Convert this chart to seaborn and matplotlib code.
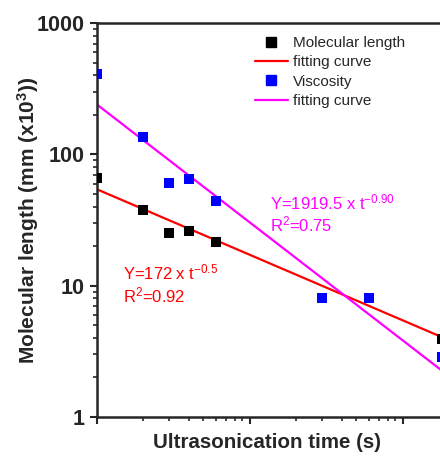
import numpy as np
import pandas as pd
import matplotlib.pyplot as plt
import seaborn as sns
from matplotlib.lines import Line2D

# -------------------------------
# data
# -------------------------------
time_mol = [10, 20, 30, 40, 60, 1800]
mol_length = [66, 37.5, 25, 26, 21.4, 3.9]

time_visc = [10, 20, 30, 40, 60, 300, 600, 1800]
viscosity = [407, 136, 60.5, 64.6, 44, 8.06, 7.98, 2.86]

# fit parameters Y = A * t^b
fit_mol = (172, -0.5)
fit_visc = (1919.5, -0.90)

# -------------------------------
# style
# -------------------------------
sns.set_style("ticks")
plt.rcParams["font.family"] = ["Liberation Sans", "DejaVu Sans"]
plt.rcParams["mathtext.default"] = "regular"

fig = plt.figure(figsize=(4.4, 4.57), dpi=100)
W, H = 440, 457
ax_h = 416.7 - 23.3
ax = fig.add_axes([96.5 / W, 1 - 416.7 / H, 379 / W, ax_h / H])

# fitting curves
t = np.logspace(1, np.log10(3000), 200)
df_fit = pd.DataFrame({
    "t": np.concatenate([t, t]),
    "y": np.concatenate([fit_mol[0] * t ** fit_mol[1], fit_visc[0] * t ** fit_visc[1]]),
    "curve": ["mol"] * len(t) + ["visc"] * len(t),
})

sns.lineplot(data=df_fit, x="t", y="y", hue="curve",
             palette={"mol": "#ff0000", "visc": "#ff00ff"},
             linewidth=1.6, ax=ax, legend=False, zorder=2)

# data points
sns.scatterplot(x=time_mol, y=mol_length, marker="s", s=55, color="black",
                linewidth=0, ax=ax, zorder=3)
sns.scatterplot(x=time_visc, y=viscosity, marker="s", s=55, color="#0000ff",
                linewidth=0, ax=ax, zorder=3)

ax.set_xscale("log")
ax.set_yscale("log")
ax.set_xlim(10, 3000)
ax.set_ylim(1, 1000)

for s in ax.spines.values():
    s.set_linewidth(1.8)
ax.tick_params(which="major", direction="out", length=5, width=1.5, labelsize=15.5)
ax.tick_params(which="minor", direction="out", length=3, width=1.2)
ax.set_xticklabels([])
ax.set_yticks([1, 10, 100, 1000])
ax.set_yticklabels(["1", "10", "100", "1000"], fontweight="bold")

ax.set_ylabel("Molecular length (mm (x10$^{3}$))", fontsize=15, fontweight="bold")
ax.yaxis.set_label_coords(-(96.5 - 41) / 379, 0.5)
ax.set_xlabel("Ultrasonication time (s)", fontsize=14.8, fontweight="bold")
ax.xaxis.set_label_coords((267 - 96.5) / 379, -(433 - 416.7) / ax_h)

# -------------------------------
# legend
# -------------------------------
handles = [
    Line2D([], [], marker="s", color="black", linestyle="none", markersize=7),
    Line2D([], [], color="#ff0000", linewidth=1.6),
    Line2D([], [], marker="s", color="#0000ff", linestyle="none", markersize=7),
    Line2D([], [], color="#ff00ff", linewidth=1.6),
]
labels = ["Molecular length", "fitting curve", "Viscosity", "fitting curve"]
fig.legend(handles, labels, loc="upper left", bbox_to_anchor=(255 / W, 1 - 36 / H),
           frameon=False, fontsize=11, handlelength=2.15, handletextpad=0.33,
           labelspacing=0.35, borderaxespad=0, borderpad=0)

# -------------------------------
# fit equations
# -------------------------------
fig.text(270 / W, 1 - 202 / H, "Y=1919.5 x t$^{-0.90}$", color="#ff00ff",
         fontsize=12, va="center")
fig.text(270 / W, 1 - 224 / H, "R$^{2}$=0.75", color="#ff00ff",
         fontsize=12, va="center")
fig.text(123 / W, 1 - 272 / H, "Y=172 x t$^{-0.5}$", color="#ff0000",
         fontsize=12, va="center")
fig.text(123 / W, 1 - 295 / H, "R$^{2}$=0.92", color="#ff0000",
         fontsize=12, va="center")

fig.savefig("out.png", dpi=100)
